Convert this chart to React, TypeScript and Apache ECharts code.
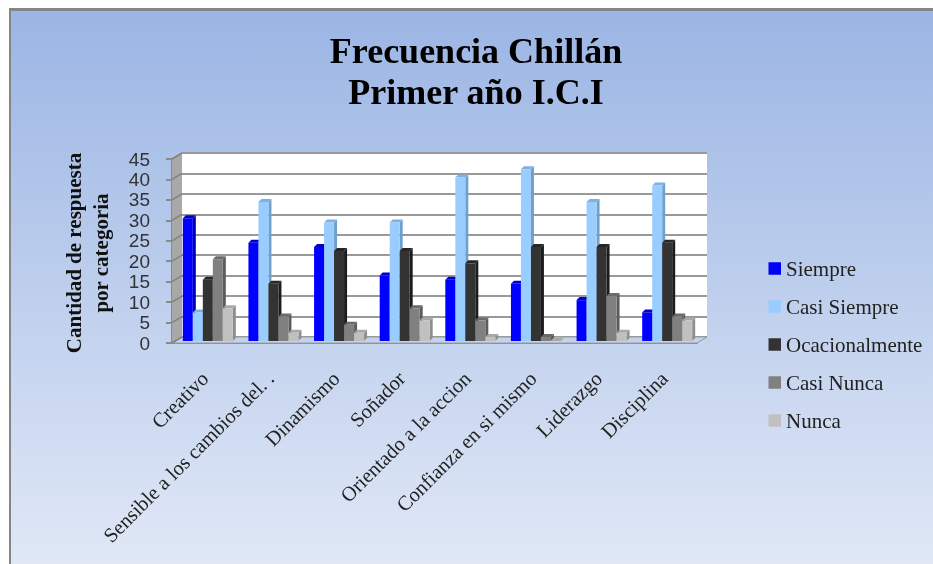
import React, { useEffect, useRef } from "react";
import * as echarts from "echarts";

const categories = [
  "Creativo",
  "Sensible a los cambios del. .",
  "Dinamismo",
  "Soñador",
  "Orientado a la accion",
  "Confianza en si mismo",
  "Liderazgo",
  "Disciplina",
];
const seriesNames = ["Siempre", "Casi Siempre", "Ocacionalmente", "Casi Nunca", "Nunca"];
const siempre = [30, 24, 23, 16, 15, 14, 10, 7];
const casiSiempre = [7, 34, 29, 29, 40, 42, 34, 38];
const ocasionalmente = [15, 14, 22, 22, 19, 23, 23, 24];
const casiNunca = [20, 6, 4, 8, 5, 1, 11, 6];
const nunca = [8, 2, 2, 5, 1, 0, 2, 5];
const allValues = [siempre, casiSiempre, ocasionalmente, casiNunca, nunca];
const yTicks = [0, 5, 10, 15, 20, 25, 30, 35, 40, 45];

const frontColors = ["#0000ff", "#99ccff", "#333333", "#808080", "#c0c0c0"];
const topColors = ["#0000c8", "#7fb0e0", "#262626", "#6a6a6a", "#a8a8a8"];
const sideColors = ["#0000b0", "#6f9fcf", "#1c1c1c", "#5c5c5c", "#8e8e8e"];

const SERIF = '"Liberation Serif", serif';
const BAR_W = 10;
const DEPTH_X = 3;
const DEPTH_Y = 3;
const WALL_X = 10;
const WALL_Y = 6;

function barRenderer(seriesIndex: number) {
  return (_params: any, api: any) => {
    const cat = api.value(0);
    const val = api.value(1);
    const top = api.coord([cat, val]);
    const base = api.coord([cat, 0]);
    const x0 = top[0] - 22 + seriesIndex * BAR_W;
    const x1 = x0 + BAR_W;
    const yT = top[1] - 2;
    const yB = base[1] - 2;
    return {
      type: "group",
      children: [
        {
          type: "polygon",
          shape: { points: [[x1, yT], [x1 + DEPTH_X, yT - DEPTH_Y], [x1 + DEPTH_X, yB - DEPTH_Y], [x1, yB]] },
          style: { fill: sideColors[seriesIndex] },
        },
        {
          type: "polygon",
          shape: { points: [[x0, yT], [x0 + DEPTH_X, yT - DEPTH_Y], [x1 + DEPTH_X, yT - DEPTH_Y], [x1, yT]] },
          style: { fill: topColors[seriesIndex] },
        },
        { type: "rect", shape: { x: x0, y: yT, width: BAR_W, height: yB - yT }, style: { fill: frontColors[seriesIndex] } },
      ],
    };
  };
}

function wallRenderer(params: any, api: any) {
  const v = api.value(0);
  const cs = params.coordSys;
  const y0 = api.coord([0, v])[1];
  const x = cs.x;
  const children: any[] = [];
  if (v < 45) {
    const y1 = api.coord([0, v + 5])[1];
    children.push({
      type: "polygon",
      shape: { points: [[x, y0], [x + WALL_X, y0 - WALL_Y], [x + WALL_X, y1 - WALL_Y], [x, y1]] },
      style: { fill: "#a8a8a8" },
    });
  }
  children.push({
    type: "line",
    shape: { x1: x, y1: y0, x2: x + WALL_X, y2: y0 - WALL_Y },
    style: { stroke: "#808080", lineWidth: 1.5 },
  });
  if (v === 0) {
    children.unshift({
      type: "polygon",
      shape: {
        points: [[x, y0], [x + WALL_X, y0 - WALL_Y], [x + cs.width + WALL_X, y0 - WALL_Y], [x + cs.width, y0]],
      },
      style: { fill: "#c3d3ee", stroke: "#9a9a9a", lineWidth: 1 },
    });
  }
  return { type: "group", children };
}

export default function App() {
  const ref = useRef<HTMLDivElement>(null);
  useEffect(() => {
    document.body.style.margin = "0";
    const chart = echarts.init(ref.current as HTMLDivElement, undefined, { renderer: "svg" });
    chart.setOption({
      animation: false,
      title: {
        text: "Frecuencia Chillán\nPrimer año I.C.I",
        left: 471,
        top: 25,
        textAlign: "center",
        textStyle: { fontFamily: SERIF, fontWeight: "bold", fontSize: 36, lineHeight: 41, color: "#000" },
      },
      graphic: [
        {
          type: "rect",
          z: -10,
          silent: true,
          shape: { x: 9, y: 8, width: 924, height: 556 },
          style: { fill: "#858585" },
        },
        {
          type: "rect",
          z: -9,
          silent: true,
          shape: { x: 11, y: 11, width: 922, height: 553 },
          style: {
            fill: new echarts.graphic.LinearGradient(0, 0, 0, 1, [
              { offset: 0, color: "#9bb5e4" },
              { offset: 1, color: "#e0e8f6" },
            ]),
          },
        },
      ],
      legend: {
        orient: "vertical",
        left: 763.5,
        top: 253,
        itemWidth: 12.5,
        itemHeight: 12.5,
        itemGap: 17,
        data: seriesNames,
        icon: "rect",
        selectedMode: false,
        textStyle: { fontFamily: SERIF, fontSize: 21, lineHeight: 20, color: "#222" },
      },
      grid: [
        { left: 172, top: 159, width: 525, height: 184 },
        { left: 182, top: 153, width: 525, height: 184, show: true, backgroundColor: "#ffffff", borderWidth: 0 },
      ],
      xAxis: [
        {
          type: "category",
          gridIndex: 0,
          data: categories,
          axisLine: { lineStyle: { color: "#8a8a8a", width: 2 } },
          axisTick: { show: false },
          axisLabel: {
            interval: 0,
            rotate: 45,
            margin: 32,
            padding: [6, 0, 0, 0],
            fontFamily: SERIF,
            fontSize: 20.5,
            color: "#222",
          },
        },
        {
          type: "category",
          gridIndex: 1,
          data: categories,
          axisLine: { show: false },
          axisTick: { show: false },
          axisLabel: { show: false },
        },
      ],
      yAxis: [
        {
          type: "value",
          gridIndex: 0,
          min: 0,
          max: 45,
          interval: 5,
          name: "Cantidad de respuesta\npor categoria",
          nameLocation: "middle",
          nameGap: 58,
          nameTextStyle: {
            fontFamily: SERIF,
            fontWeight: "bold",
            fontSize: 21,
            lineHeight: 27,
            color: "#111",
            padding: [0, 4, 0, 0],
          },
          axisLine: { show: true, lineStyle: { color: "#8a8a8a", width: 2 } },
          axisTick: { show: true, length: 6, lineStyle: { color: "#8a8a8a", width: 2 } },
          axisLabel: { margin: 22, fontFamily: '"Liberation Sans", sans-serif', fontSize: 19, color: "#333" },
          splitLine: { show: false },
        },
        {
          type: "value",
          gridIndex: 1,
          min: 0,
          max: 45,
          interval: 5,
          axisLine: { show: false },
          axisTick: { show: false },
          axisLabel: { show: false },
          splitLine: { show: true, lineStyle: { color: "#999999", width: 2 } },
        },
      ],
      series: [
        {
          name: "wall",
          type: "custom",
          xAxisIndex: 0,
          yAxisIndex: 0,
          silent: true,
          z: 1,
          encode: { y: 0 },
          data: yTicks.map((v) => [v]),
          renderItem: wallRenderer,
        },
        ...allValues.map((vals, s) => ({
          name: seriesNames[s],
          type: "custom",
          xAxisIndex: 0,
          yAxisIndex: 0,
          z: 2 + s,
          itemStyle: { color: frontColors[s] },
          encode: { x: 0, y: 1 },
          data: vals.map((v, i) => [i, v]),
          renderItem: barRenderer(s),
        })),
      ],
    });
    return () => chart.dispose();
  }, []);
  return <div ref={ref} style={{ width: 933, height: 564, filter: "blur(0.45px)" }} />;
}
